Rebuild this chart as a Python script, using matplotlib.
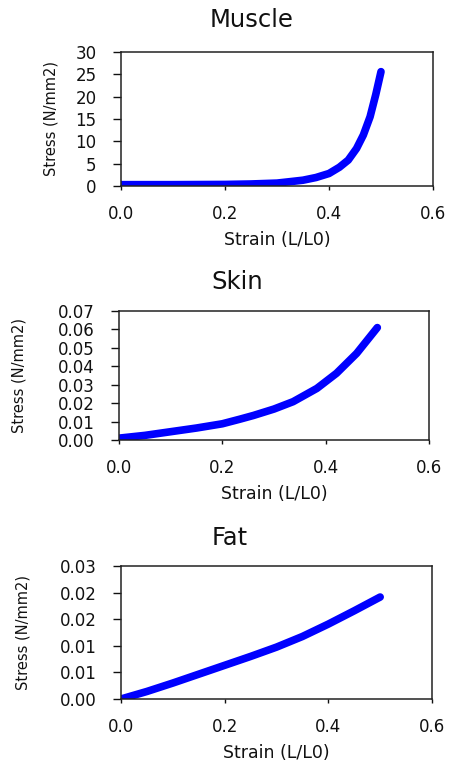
import matplotlib
matplotlib.use("Agg")
import matplotlib.pyplot as plt

plt.rcParams["font.family"] = ["DejaVu Sans"]

# ── Data ──────────────────────────────────────────────────────────────────────
muscle_strain = [0.0, 0.1, 0.2, 0.25, 0.3, 0.325, 0.35, 0.375, 0.4, 0.42,
                 0.437, 0.453, 0.466, 0.479, 0.49, 0.5]
muscle_stress = [0.3, 0.3, 0.35, 0.45, 0.65, 0.97, 1.3, 1.9, 2.8, 4.2,
                 5.8, 8.4, 11.4, 15.5, 20.5, 25.6]

skin_strain = [0.0, 0.05, 0.1, 0.15, 0.2, 0.234, 0.26, 0.3, 0.337, 0.383,
               0.421, 0.46, 0.5]
skin_stress = [0.001, 0.0025, 0.0045, 0.0065, 0.0088, 0.0113, 0.0133,
               0.0168, 0.0208, 0.028, 0.0362, 0.047, 0.061]

fat_strain = [0.0, 0.05, 0.1, 0.15, 0.2, 0.25, 0.3, 0.35, 0.4, 0.45, 0.5]
fat_stress = [0.0, 0.0017, 0.0036, 0.0056, 0.0076, 0.0096, 0.0117,
              0.0141, 0.0169, 0.0199, 0.0230]

x_ticks = [0.0, 0.2, 0.4, 0.6]
x_ticklabels = ["0.0", "0.2", "0.4", "0.6"]

muscle_yticks = [0, 5, 10, 15, 20, 25, 30]
muscle_yticklabels = ["0", "5", "10", "15", "20", "25", "30"]
skin_yticks = [0, 0.01, 0.02, 0.03, 0.04, 0.05, 0.06, 0.07]
skin_yticklabels = ["0.00", "0.01", "0.02", "0.03", "0.04", "0.05", "0.06", "0.07"]
fat_yticks = [0, 0.006, 0.012, 0.018, 0.024, 0.03]
fat_yticklabels = ["0.00", "0.01", "0.01", "0.02", "0.02", "0.03"]

W, H = 449, 764
fig = plt.figure(figsize=(W / 100, H / 100), dpi=100)
fig.patch.set_facecolor("white")

# (title, x, y, yticks, yticklabels, ylim top, box px [l, t, r, b], title px, ylabel x px)
panels = [
    ("Muscle", muscle_strain, muscle_stress, muscle_yticks, muscle_yticklabels,
     30, (121, 52, 433, 186), (252, 20), 51),
    ("Skin", skin_strain, skin_stress, skin_yticks, skin_yticklabels,
     0.07, (119, 311, 429, 440), (237, 282), 19),
    ("Fat", fat_strain, fat_stress, fat_yticks, fat_yticklabels,
     0.03, (121, 566, 432, 699), (230, 538), 23),
]

for title, xs, ys, yt, ytl, ytop, (l, t, r, b), (tx, ty), ylx in panels:
    ax = fig.add_axes([l / W, 1 - b / H, (r - l) / W, (b - t) / H])
    ax.plot(xs, ys, color="#0000ff", linewidth=5.5, solid_capstyle="round",
            solid_joinstyle="round")
    ax.set_xlim(0, 0.6)
    ax.set_ylim(0, ytop)
    ax.set_xticks(x_ticks)
    ax.set_xticklabels(x_ticklabels)
    ax.set_yticks(yt)
    ax.set_yticklabels(ytl)
    ax.tick_params(axis="x", direction="out", length=3, width=1, pad=11,
                   labelsize=12, colors="#111")
    ax.tick_params(axis="y", direction="out", length=5.5, width=1, pad=12,
                   labelsize=12, colors="#111")
    for sp in ax.spines.values():
        sp.set_color("#222")
        sp.set_linewidth(1.1)

    h = b - t
    wd = r - l
    ax.set_xlabel("Strain (L/L0)", fontsize=12.5, va="center", color="#111")
    ax.xaxis.set_label_coords(0.5, -54 / h)
    ax.set_ylabel("Stress (N/mm2)", fontsize=10.5, va="center", color="#111")
    ax.yaxis.set_label_coords((ylx - l) / wd, 0.5)

    fig.text(tx / W, 1 - ty / H, title, ha="center", va="center",
             fontsize=17.5, color="#111")

plt.savefig("out.png", dpi=100, facecolor="white")
